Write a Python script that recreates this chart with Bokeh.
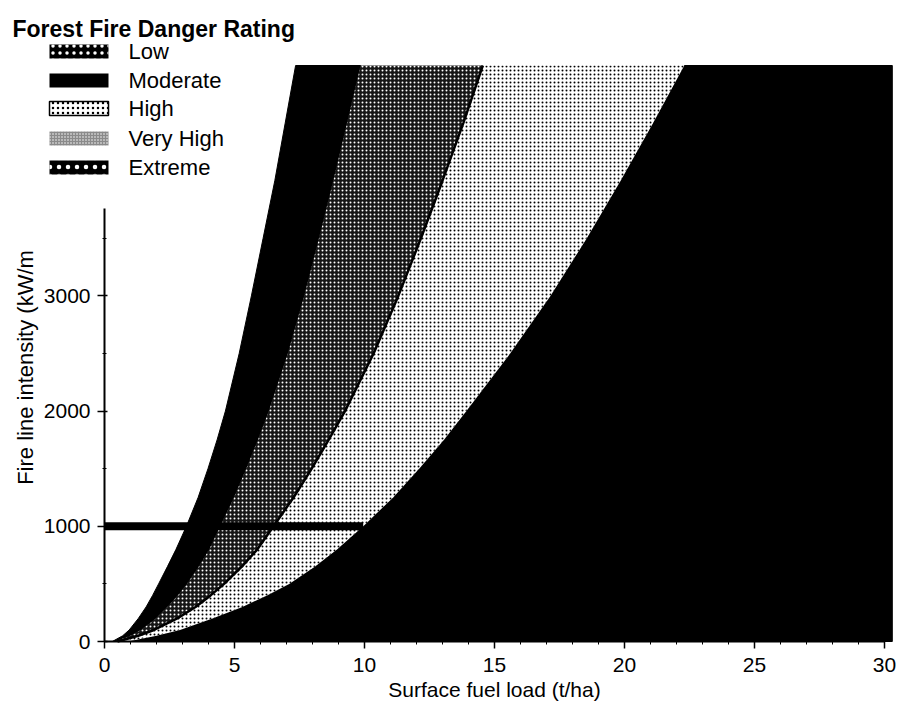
import math
from bokeh.plotting import figure
from bokeh.models import Range1d, FixedTicker, Label, BoxAnnotation, LinearAxis
from bokeh.embed import file_html
from bokeh.resources import INLINE

# ---------------- data ----------------
# fire line intensity levels (kW/m) at which the band boundaries were read
intensity = [0, 50, 100, 200, 300, 400, 500, 650, 800, 1000, 1250, 1500, 1750, 2000,
             2500, 3000, 3500, 4000, 4500, 5000]
# surface fuel load (t/ha) of each boundary at those intensities (left to right)
bound_a = [0.3, 0.7, 0.95, 1.3, 1.6, 1.85, 2.08, 2.42, 2.75, 3.15, 3.6, 3.98, 4.33, 4.65,
           5.18, 5.65, 6.1, 6.55, 6.95, 7.35]
bound_b = [0.4, 1.0, 1.4, 1.98, 2.42, 2.82, 3.17, 3.63, 4.03, 4.45, 4.98, 5.45, 5.9, 6.32,
           7.05, 7.68, 8.25, 8.8, 9.33, 9.85]
bound_c = [0.5, 1.3, 1.9, 2.8, 3.5, 4.08, 4.6, 5.28, 5.88, 6.5, 7.27, 7.97, 8.62, 9.25,
           10.35, 11.3, 12.17, 13.0, 13.8, 14.55]
bound_d = [0.9, 2.0, 2.9, 4.15, 5.3, 6.25, 7.1, 8.1, 8.95, 9.95, 11.1, 12.1, 13.05, 13.92,
           15.6, 17.15, 18.55, 19.85, 21.1, 22.3]

ref_intensity = 1000          # reference line level
ref_fuel_end = 9.95           # where the reference line meets the last boundary
fill_right = 30.3             # right edge of the shaded area
y_axis_top = 3760             # top of the drawn y axis line

x_ticks = [0, 5, 10, 15, 20, 25, 30]
x_minor = list(range(0, 31))
y_ticks = [0, 1000, 2000, 3000]
y_minor = [500, 1500, 2500, 3500]

legend_title = "Forest Fire Danger Rating"
legend_labels = ["Low", "Moderate", "High", "Very High", "Extreme"]

# ---------------- layout (pixels) ----------------
W, H = 896, 716
PX_X0, PX_PER_X = 104.0, 26.0          # x = 0 at px 104
PY_Y0, PY_PER_Y = 641.0, 576.0 / 5000  # y = 0 at py 641

x_range = Range1d(-PX_X0 / PX_PER_X, (W - PX_X0) / PX_PER_X)
y_range = Range1d(-(H - PY_Y0) / PY_PER_Y, PY_Y0 / PY_PER_Y)

p = figure(width=W, height=H, x_range=x_range, y_range=y_range,
           output_backend="svg", toolbar_location=None,
           x_axis_location=None, y_axis_location=None,
           min_border=0, min_border_left=0, min_border_right=0,
           min_border_top=0, min_border_bottom=0)
p.outline_line_color = None
p.xgrid.visible = False
p.ygrid.visible = False
p.background_fill_color = "white"
p.border_fill_color = "white"

def band(left, right):
    return dict(x=left + right[::-1], y=intensity + intensity[::-1])

ab = band(bound_a, bound_b)
bc = band(bound_b, bound_c)
cd = band(bound_c, bound_d)
rx = bound_d + [fill_right, fill_right]
ry = intensity + [intensity[-1], intensity[0]]

p.patch(rx, ry, fill_color="black", line_color="black", line_width=1)
p.patch(ab["x"], ab["y"], fill_color="black", line_color="black", line_width=1)
p.patch(bc["x"], bc["y"], fill_color="#161616", line_color=None,
        hatch_pattern="dot", hatch_color="white", hatch_scale=4, hatch_weight=1.5)
p.patch(cd["x"], cd["y"], fill_color="white", line_color=None,
        hatch_pattern="dot", hatch_color="black", hatch_scale=4, hatch_weight=1.2)
p.line(bound_c, intensity, line_color="black", line_width=2.5)
p.line([0, ref_fuel_end], [ref_intensity, ref_intensity], line_color="black", line_width=8)

# axes placed at data location 0
xa = LinearAxis(fixed_location=0)
xa.ticker = FixedTicker(ticks=x_ticks, minor_ticks=x_minor)
xa.bounds = (0, 30)
xa.axis_label = "Surface fuel load (t/ha)"
xa.axis_label_text_font = "Liberation Sans"
xa.axis_label_text_font_style = "normal"
xa.axis_label_text_font_size = "21px"
xa.axis_label_text_color = "black"
xa.axis_label_standoff = 3
xa.major_label_text_font = "Liberation Sans"
xa.major_label_text_font_size = "21px"
xa.major_label_text_color = "black"
xa.major_label_standoff = 9
xa.major_tick_out = 7
xa.major_tick_in = 0
xa.minor_tick_out = 3
xa.minor_tick_in = 0
xa.axis_line_width = 2
xa.major_tick_line_width = 1.5
p.add_layout(xa, "below")

ya = LinearAxis(fixed_location=0)
ya.ticker = FixedTicker(ticks=y_ticks, minor_ticks=y_minor)
ya.bounds = (0, y_axis_top)
ya.major_label_text_font = "Liberation Sans"
ya.major_label_text_font_size = "21px"
ya.major_label_text_color = "black"
ya.major_label_standoff = 7
ya.major_tick_out = 7
ya.major_tick_in = 3
ya.minor_tick_out = 2
ya.minor_tick_in = 2
ya.axis_line_width = 2
ya.major_tick_line_width = 1.5
p.add_layout(ya, "left")

# y axis title
p.add_layout(Label(x=25, y=367, x_units="canvas", y_units="canvas", text="Fire line intensity (kW/m",
                   angle=math.pi / 2, text_align="center", text_baseline="middle",
                   text_font="Liberation Sans", text_font_size="22px", text_color="black"))

# legend
p.add_layout(Label(x=12, y=28, x_units="canvas", y_units="canvas", text=legend_title,
                   text_font="Liberation Sans", text_font_style="bold", text_font_size="23px",
                   text_baseline="alphabetic", text_color="black"))

row_y = [51, 80, 108, 138, 167]
sw_styles = [
    dict(fill_color="black", hatch_pattern="dot", hatch_color="white", hatch_scale=7, hatch_weight=1),
    dict(fill_color="black"),
    dict(fill_color="white", hatch_pattern="dot", hatch_color="black", hatch_scale=5, hatch_weight=1,
         line_color="black", line_width=1.5, line_alpha=1),
    dict(fill_color="#8a8a8a", hatch_pattern="dot", hatch_color="white", hatch_scale=3, hatch_weight=1),
    dict(fill_color="black", hatch_pattern="dot", hatch_color="white", hatch_scale=9, hatch_weight=1),
]
for lab, yy, st in zip(legend_labels, row_y, sw_styles):
    kw = dict(fill_alpha=1.0, line_color=None)
    kw.update(st)
    p.add_layout(BoxAnnotation(left=49, right=108, top=yy - 7, bottom=yy + 7,
                               left_units="canvas", right_units="canvas",
                               top_units="canvas", bottom_units="canvas", **kw))
    p.add_layout(Label(x=128, y=yy, x_units="canvas", y_units="canvas", text=lab,
                       text_font="Liberation Sans", text_font_size="22px",
                       text_baseline="middle", text_color="black"))

open("out.html", "w").write(file_html(p, INLINE))
